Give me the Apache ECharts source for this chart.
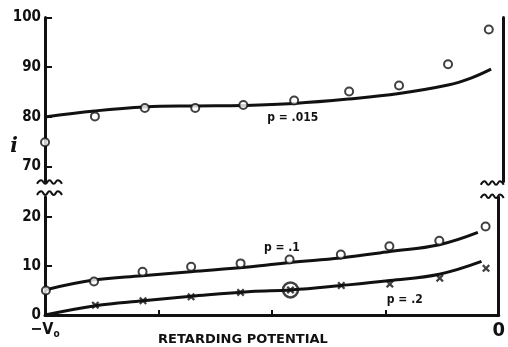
<!DOCTYPE html>
<html><head><meta charset="utf-8">
<script src="https://cdn.jsdelivr.net/npm/echarts@6/dist/echarts.min.js"></script>
<style>html,body{margin:0;padding:0;background:#fff}#c{width:508px;height:347px}</style>
</head><body><div id="c"></div>
<script>
// ---- data ----
const potentialTop = [0, 0.109, 0.218, 0.328, 0.433, 0.544, 0.664, 0.773, 0.880, 0.969];
const currentP015 = [74.9, 80.1, 81.8, 81.8, 82.4, 83.3, 85.1, 86.3, 90.6, 97.6];
const fitXTop = [0, 0.109, 0.218, 0.328, 0.432, 0.544, 0.664, 0.773, 0.880, 0.930, 0.974];
const fitP015 = [80.0, 81.2, 82.0, 82.2, 82.3, 82.7, 83.6, 84.7, 86.4, 87.8, 89.6];

const potentialP1 = [0.002, 0.108, 0.215, 0.322, 0.431, 0.539, 0.652, 0.759, 0.869, 0.971];
const currentP1 = [5.0, 6.8, 8.8, 9.8, 10.5, 11.3, 12.3, 14.0, 15.1, 18.0];
const fitXP1 = [0, 0.107, 0.214, 0.321, 0.454, 0.539, 0.651, 0.760, 0.869, 0.954];
const fitP1 = [5.1, 7.1, 8.0, 8.8, 9.8, 10.7, 11.6, 12.9, 14.3, 16.8];

const potentialP2 = [0.111, 0.216, 0.322, 0.431, 0.541, 0.653, 0.760, 0.870, 0.972];
const currentP2 = [2.0, 2.9, 3.7, 4.6, 5.1, 6.0, 6.3, 7.5, 9.5];
const circledIndexP2 = 4;
const fitXP2 = [0, 0.111, 0.216, 0.322, 0.454, 0.541, 0.653, 0.760, 0.869, 0.962];
const fitP2 = [0, 1.9, 2.9, 3.8, 4.8, 5.1, 6.0, 7.0, 8.3, 10.9];

const topTicks = [70, 80, 90, 100];
const bottomTicks = [0, 10, 20];
const xTicks = [0.25, 0.5, 0.75];
const xEndLabels = [0, 1];
const labelP015 = { text: 'p = .015', x: 0.541, y: 79.8 };
const labelP1 = { text: 'p = .1', x: 0.522, y: 13.6 };
const labelP2 = { text: 'p = .2', x: 0.793, y: 3.1 };

// ---- chart ----
const INK = '#111';
const FONT = '"DejaVu Sans Condensed", "DejaVu Sans", sans-serif';
const pairs = (xs, ys) => xs.map((x, i) => [x, ys[i]]);
const crossPath = 'path://M0,2L2,0L5,3L8,0L10,2L7,5L10,8L8,10L5,7L2,10L0,8L3,5Z';

const chart = echarts.init(document.getElementById('c'), null, { renderer: 'canvas' });

const yLabel = {
  color: INK, fontFamily: FONT, fontWeight: 'bold', fontSize: 15, margin: 4
};

chart.setOption({
  backgroundColor: '#fff',
  animation: false,
  grid: [
    { left: 45, right: 5, top: 17.5, height: 164 },
    { left: 45, right: 5, top: 197, height: 118 }
  ],
  xAxis: [
    { gridIndex: 0, type: 'value', min: 0, max: 1, show: false },
    {
      gridIndex: 1, type: 'value', min: 0, max: 1,
      splitLine: { show: false },
      axisLine: { lineStyle: { color: INK, width: 3 } },
      axisTick: { customValues: xTicks, inside: true, length: 5, lineStyle: { color: INK, width: 2 } },
      axisLabel: {
        customValues: xEndLabels, margin: 6, color: INK,
        formatter: v => v === 0 ? '{a|−V}{s|o}' : '{b|0}',
        rich: {
          a: { fontFamily: FONT, fontWeight: 'bold', fontSize: 16, color: INK },
          s: { fontFamily: FONT, fontWeight: 'bold', fontSize: 10, color: INK, padding: [8, 0, 0, 0] },
          b: { fontFamily: FONT, fontWeight: 'bold', fontSize: 20, color: INK }
        }
      }
    }
  ],
  yAxis: [
    {
      gridIndex: 0, type: 'value', min: 67, max: 100,
      splitLine: { show: false },
      axisLine: { show: true, lineStyle: { color: INK, width: 3 } },
      axisTick: { show: true, customValues: topTicks, inside: true, length: 7, lineStyle: { color: INK, width: 2 } },
      axisLabel: Object.assign({ customValues: topTicks }, yLabel)
    },
    {
      gridIndex: 0, type: 'value', min: 67, max: 100, position: 'right',
      splitLine: { show: false }, axisTick: { show: false }, axisLabel: { show: false },
      axisLine: { show: true, lineStyle: { color: INK, width: 3 } }
    },
    {
      gridIndex: 1, type: 'value', min: 0, max: 24,
      splitLine: { show: false },
      axisLine: { show: true, lineStyle: { color: INK, width: 3 } },
      axisTick: { show: true, customValues: bottomTicks, inside: true, length: 7, lineStyle: { color: INK, width: 2 } },
      axisLabel: Object.assign({ customValues: bottomTicks }, yLabel)
    },
    {
      gridIndex: 1, type: 'value', min: 0, max: 24, position: 'right',
      splitLine: { show: false }, axisTick: { show: false }, axisLabel: { show: false },
      axisLine: { show: true, lineStyle: { color: INK, width: 3 } }
    }
  ],
  series: [
    {
      type: 'line', xAxisIndex: 0, yAxisIndex: 0, data: pairs(fitXTop, fitP015),
      smooth: 0.4, showSymbol: false, lineStyle: { color: INK, width: 3 }, z: 2
    },
    {
      type: 'scatter', xAxisIndex: 0, yAxisIndex: 0, data: pairs(potentialTop, currentP015),
      symbol: 'emptyCircle', symbolSize: 8, clip: false,
      itemStyle: { color: INK, borderColor: INK, borderWidth: 2.2 }, z: 3
    },
    {
      type: 'line', xAxisIndex: 1, yAxisIndex: 2, data: pairs(fitXP1, fitP1),
      smooth: 0.4, showSymbol: false, lineStyle: { color: INK, width: 3 }, z: 2
    },
    {
      type: 'scatter', xAxisIndex: 1, yAxisIndex: 2, data: pairs(potentialP1, currentP1),
      symbol: 'emptyCircle', symbolSize: 8, clip: false,
      itemStyle: { color: INK, borderColor: INK, borderWidth: 2.2 }, z: 3
    },
    {
      type: 'line', xAxisIndex: 1, yAxisIndex: 2, data: pairs(fitXP2, fitP2),
      smooth: 0.4, showSymbol: false, lineStyle: { color: INK, width: 3 }, z: 2
    },
    {
      type: 'scatter', xAxisIndex: 1, yAxisIndex: 2, data: pairs(potentialP2, currentP2),
      symbol: crossPath, symbolSize: 8, clip: false,
      itemStyle: { color: INK }, z: 3
    },
    {
      type: 'scatter', xAxisIndex: 1, yAxisIndex: 2,
      data: [[potentialP2[circledIndexP2], currentP2[circledIndexP2]]],
      symbol: 'circle', symbolSize: 15, clip: false,
      itemStyle: { color: 'rgba(0,0,0,0)', borderColor: INK, borderWidth: 2.5 }, z: 4
    }
  ]
});

// ---- annotations & axis-break marks ----
const px = (grid, pt) => chart.convertToPixel({ gridIndex: grid }, pt);
const txt = (p, text, font) => ({
  type: 'text', x: p[0], y: p[1],
  style: { text, fill: INK, font, align: 'center', verticalAlign: 'middle' }
});
function wave(x0, x1, y) {
  const pts = [];
  const n = 6;
  for (let i = 0; i <= n; i++) pts.push([x0 + (x1 - x0) * i / n, y + (i % 2 ? -1.8 : 1.8)]);
  return { type: 'polyline', shape: { points: pts, smooth: 0.5 }, style: { stroke: INK, lineWidth: 2, fill: null } };
}
const topBottomL = px(0, [0, 67]);
const botTopL = px(1, [0, 24]);
const botTopR = px(1, [1, 24]);
const gap = botTopL[1] - topBottomL[1];
const iPos = px(0, [0, 74]);
const annFont = 'bold 12px ' + FONT;
const graphics = [
  txt(px(0, [labelP015.x, labelP015.y]), labelP015.text, annFont),
  txt(px(1, [labelP1.x, labelP1.y]), labelP1.text, annFont),
  txt(px(1, [labelP2.x, labelP2.y]), labelP2.text, annFont),
  txt([iPos[0] - 31, iPos[1]], 'i', 'italic bold 20px "DejaVu Serif", serif'),
  txt([243, 340], 'RETARDING POTENTIAL', 'bold 13px "DejaVu Sans", sans-serif'),
  wave(topBottomL[0] - 8, topBottomL[0] + 17, topBottomL[1] + 0.5),
  wave(topBottomL[0] - 8, topBottomL[0] + 17, topBottomL[1] + gap * 0.75),
  wave(botTopR[0] - 18, botTopR[0] + 5, topBottomL[1] + 1.5),
  wave(botTopR[0] - 18, botTopR[0] + 5, topBottomL[1] + gap * 0.95)
];
chart.setOption({ graphic: graphics });
</script>
</body></html>
